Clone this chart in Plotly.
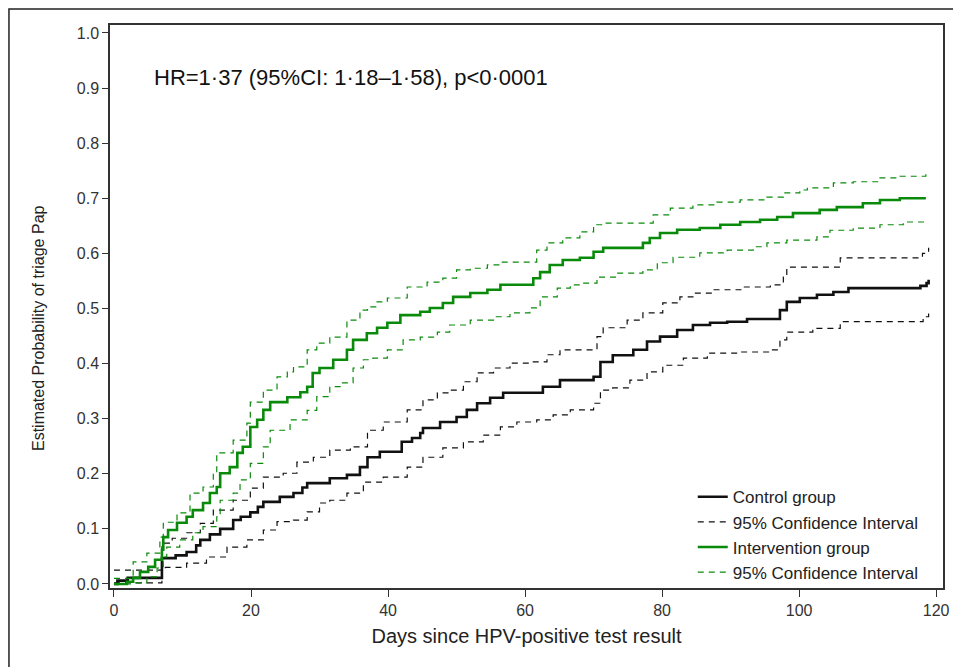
import plotly.graph_objects as go

# ---- data ----
ctrl_days = [0, 0.5, 2, 7, 9, 10.6, 12, 12.6, 14, 15.5, 17.4, 18.5, 19.9, 21, 21.8, 24.2, 26.2, 27.5, 28.2, 31.5,
             34, 35.9, 37, 38.8, 42, 43.5, 44.7, 45.1, 47.6, 50, 51.5, 53, 54.9, 56.8, 62.6, 65.1, 70, 71, 72.8, 75.8,
             77.8, 79.7, 82.2, 84.5, 87, 89.5, 92.4, 97.2, 98.2, 100.1, 102.6, 105, 107.2, 117.7, 118.6, 118.9]
ctrl_prob = [0.0, 0.006, 0.011, 0.047, 0.052, 0.058, 0.07, 0.08, 0.09, 0.10, 0.116, 0.122, 0.13, 0.14, 0.149, 0.158,
             0.165, 0.175, 0.183, 0.192, 0.198, 0.212, 0.23, 0.24, 0.258, 0.265, 0.274, 0.283, 0.294, 0.303, 0.316,
             0.328, 0.338, 0.347, 0.358, 0.37, 0.376, 0.403, 0.415, 0.425, 0.44, 0.449, 0.461, 0.47, 0.474, 0.476,
             0.481, 0.497, 0.512, 0.519, 0.525, 0.53, 0.537, 0.541, 0.546, 0.552]

ctrl_up_days = [0, 7, 8.5, 10.6, 12.6, 14.5, 17.4, 19.9, 21.8, 24.7, 26.7, 29.1, 31.5, 34.5, 37, 39.3, 42.8, 45.1,
                47.2, 49, 51, 53, 55.4, 57.8, 60.7, 63.2, 65.1, 70.5, 71.4, 74.9, 77.2, 80.1, 82.6, 84.5, 87.4, 91.8,
                95.8, 97.7, 98.2, 106, 118, 118.9]
ctrl_up_prob = [0.025, 0.074, 0.083, 0.093, 0.11, 0.134, 0.152, 0.174, 0.194, 0.201, 0.221, 0.23, 0.243, 0.249,
                0.279, 0.294, 0.316, 0.334, 0.347, 0.352, 0.367, 0.383, 0.392, 0.401, 0.403, 0.416, 0.425, 0.449,
                0.465, 0.479, 0.492, 0.51, 0.521, 0.528, 0.534, 0.539, 0.543, 0.557, 0.575, 0.592, 0.60, 0.61]

ctrl_lo_days = [0, 7, 7.5, 10.6, 13.5, 16.5, 19.4, 21.8, 23.8, 26.2, 28.2, 30, 31.5, 34, 36.4, 39.3, 42.8, 45.1, 48,
                51, 53.9, 56.4, 58.8, 61.7, 64.1, 66.6, 70, 71, 72.8, 75.3, 77.8, 80.1, 83.1, 86.6, 91.4, 95.8, 97.2,
                98.2, 102, 106, 118.1, 118.9]
ctrl_lo_prob = [0.002, 0.025, 0.03, 0.038, 0.049, 0.067, 0.08, 0.098, 0.113, 0.116, 0.131, 0.147, 0.152, 0.165,
                0.185, 0.194, 0.212, 0.23, 0.247, 0.258, 0.27, 0.285, 0.294, 0.298, 0.307, 0.316, 0.328, 0.352,
                0.356, 0.37, 0.385, 0.397, 0.41, 0.419, 0.421, 0.425, 0.443, 0.457, 0.464, 0.476, 0.485, 0.494]

int_days = [0, 1.9, 2.8, 3.8, 5, 6, 7, 7.2, 7.9, 9.2, 10.6, 11.5, 13, 14, 15, 15.5, 16.9, 18, 18.8, 19.9, 20.9,
            21.8, 22.8, 25.3, 27.2, 28.2, 29, 30, 32, 34, 34.9, 36.9, 38.4, 39.9, 41.8, 44.7, 46.1, 48, 49.5, 52,
            54.5, 56.4, 61.2, 62.2, 63.6, 65.5, 68, 70, 71.4, 77.2, 78.2, 79.7, 82.2, 85.5, 88.5, 91.4, 94.3, 96.8,
            99.1, 103, 105.5, 109.3, 111.8, 114.7, 118.5]
int_prob = [0.0, 0.004, 0.011, 0.022, 0.031, 0.044, 0.062, 0.085, 0.098, 0.111, 0.122, 0.134, 0.147, 0.165, 0.176,
            0.201, 0.212, 0.238, 0.249, 0.285, 0.298, 0.316, 0.33, 0.339, 0.348, 0.358, 0.383, 0.392, 0.407, 0.425,
            0.443, 0.455, 0.465, 0.474, 0.488, 0.494, 0.501, 0.51, 0.521, 0.528, 0.534, 0.543, 0.555, 0.566, 0.579,
            0.588, 0.592, 0.603, 0.61, 0.619, 0.628, 0.637, 0.643, 0.646, 0.652, 0.657, 0.661, 0.666, 0.673, 0.679,
            0.684, 0.691, 0.697, 0.70, 0.70]

int_up_days = [0, 2.8, 4.8, 6.7, 7.2, 9.2, 11.1, 13, 14.5, 15, 17.4, 19.4, 19.9, 21.8, 23.8, 25.3, 26.2, 28.2, 29.6,
               31.5, 34, 35.9, 37, 38.4, 39.9, 42.8, 45.7, 48, 50, 52, 54.5, 56.4, 61.7, 63.2, 65.5, 68, 70, 71.4,
               78.7, 81.2, 84.5, 88, 91.4, 95.3, 97.7, 100.1, 101.2, 105, 107.9, 111.8, 114.7, 118.5]
int_up_prob = [0.01, 0.04, 0.056, 0.085, 0.112, 0.129, 0.165, 0.176, 0.201, 0.238, 0.261, 0.292, 0.33, 0.352, 0.376,
               0.385, 0.394, 0.425, 0.437, 0.448, 0.479, 0.497, 0.503, 0.512, 0.519, 0.539, 0.548, 0.555, 0.57,
               0.573, 0.579, 0.584, 0.606, 0.619, 0.628, 0.639, 0.652, 0.655, 0.67, 0.682, 0.688, 0.693, 0.697,
               0.702, 0.71, 0.715, 0.719, 0.728, 0.73, 0.737, 0.74, 0.744]

int_lo_days = [0, 2.8, 4.8, 6.3, 7.2, 7.7, 9.6, 11.5, 13, 15, 15.5, 17.4, 18.4, 19.9, 21.8, 22.8, 25.7, 28.2, 29.6,
               31.5, 33, 34.9, 36.4, 37.8, 39.9, 42.2, 44.7, 47.2, 49, 52, 55.4, 57.8, 60.7, 62.2, 64.7, 66.6, 68,
               70.5, 73.4, 77.2, 79.3, 81.6, 85.5, 89.5, 93.3, 95.3, 98.2, 102.6, 104.5, 107.9, 111.8, 115.2, 118.5]
int_lo_prob = [0.0, 0.002, 0.013, 0.029, 0.049, 0.067, 0.08, 0.093, 0.104, 0.122, 0.152, 0.165, 0.189, 0.219, 0.249,
               0.279, 0.298, 0.315, 0.34, 0.358, 0.365, 0.392, 0.407, 0.41, 0.425, 0.443, 0.448, 0.457, 0.47, 0.479,
               0.485, 0.492, 0.501, 0.521, 0.537, 0.543, 0.546, 0.557, 0.564, 0.57, 0.583, 0.593, 0.601, 0.606,
               0.612, 0.619, 0.624, 0.63, 0.642, 0.646, 0.652, 0.657, 0.659]

x_ticks = [0, 20, 40, 60, 80, 100, 120]
y_ticks = [0.0, 0.1, 0.2, 0.3, 0.4, 0.5, 0.6, 0.7, 0.8, 0.9, 1.0]
y_tick_labels = ["0.0", "0.1", "0.2", "0.3", "0.4", "0.5", "0.6", "0.7", "0.8", "0.9", "1.0"]
legend_names = ["Control group", "95% Confidence Interval", "Intervention group", "95% Confidence Interval"]
hr_text = "HR=1·37 (95%CI: 1·18–1·58), p<0·0001"
x_title = "Days since HPV-positive test result"
y_title = "Estimated Probability of triage Pap"

BLACK = "#111111"
GREEN = "#0a8a0a"
FONT = "Liberation Sans, Arial, sans-serif"

fig = go.Figure()
fig.add_trace(go.Scatter(x=ctrl_days, y=ctrl_prob, mode="lines", line=dict(color=BLACK, width=2.6, shape="hv"),
                         name=legend_names[0], legendrank=1))
fig.add_trace(go.Scatter(x=ctrl_up_days, y=ctrl_up_prob, mode="lines",
                         line=dict(color=BLACK, width=1.2, shape="hv", dash="6px,5px"),
                         name=legend_names[1], legendgroup="cci", legendrank=2))
fig.add_trace(go.Scatter(x=ctrl_lo_days, y=ctrl_lo_prob, mode="lines",
                         line=dict(color=BLACK, width=1.2, shape="hv", dash="6px,5px"),
                         name=legend_names[1], legendgroup="cci", showlegend=False))
fig.add_trace(go.Scatter(x=int_days, y=int_prob, mode="lines", line=dict(color=GREEN, width=2.6, shape="hv"),
                         name=legend_names[2], legendrank=3))
fig.add_trace(go.Scatter(x=int_up_days, y=int_up_prob, mode="lines",
                         line=dict(color=GREEN, width=1.2, shape="hv", dash="6px,5px"),
                         name=legend_names[3], legendgroup="ici", legendrank=4))
fig.add_trace(go.Scatter(x=int_lo_days, y=int_lo_prob, mode="lines",
                         line=dict(color=GREEN, width=1.2, shape="hv", dash="6px,5px"),
                         name=legend_names[3], legendgroup="ici", showlegend=False))

fig.update_layout(
    width=953, height=659,
    margin=dict(l=102, r=18, t=17, b=79),
    paper_bgcolor="white", plot_bgcolor="white",
    font=dict(family=FONT, color="#222222"),
    showlegend=True,
    legend=dict(x=0.6996, y=-0.004, xanchor="left", yanchor="bottom", bgcolor="rgba(0,0,0,0)",
                font=dict(size=17, color="#222222"), traceorder="normal"),
    xaxis=dict(range=[-0.58, 121.0], tickvals=x_ticks, ticks="outside", ticklen=7, tickwidth=1.3,
               tickcolor="#333333", showline=True, linecolor="#333333", linewidth=1.5, mirror=True,
               showgrid=False, zeroline=False, tickfont=dict(size=16, color="#333333"),
               title=dict(text=x_title, font=dict(size=20, color="#222222"), standoff=11)),
    yaxis=dict(range=[-0.0073, 1.0145], tickvals=y_ticks, ticktext=y_tick_labels, ticks="outside", ticklen=6,
               tickwidth=1.3, tickcolor="#333333", showline=True, linecolor="#333333", linewidth=1.5,
               mirror=True, showgrid=False, zeroline=False, tickfont=dict(size=16, color="#333333")),
    annotations=[
        dict(text=hr_text, xref="paper", yref="paper", x=0.0504, y=0.9076, xanchor="left",
             yanchor="middle", showarrow=False, font=dict(size=22, color="#111111")),
        dict(text=y_title, xref="paper", yref="paper", x=-0.0864, y=0.4618, xanchor="center",
             yanchor="middle", textangle=-90, showarrow=False, font=dict(size=16, color="#222222")),
    ],
    shapes=[dict(type="rect", xref="paper", yref="paper", x0=-0.1213, x1=1.04, y0=-0.2, y1=1.0285,
                 line=dict(color="#222222", width=1.5), fillcolor="rgba(0,0,0,0)", layer="below")],
)

fig.write_html("out.html")
